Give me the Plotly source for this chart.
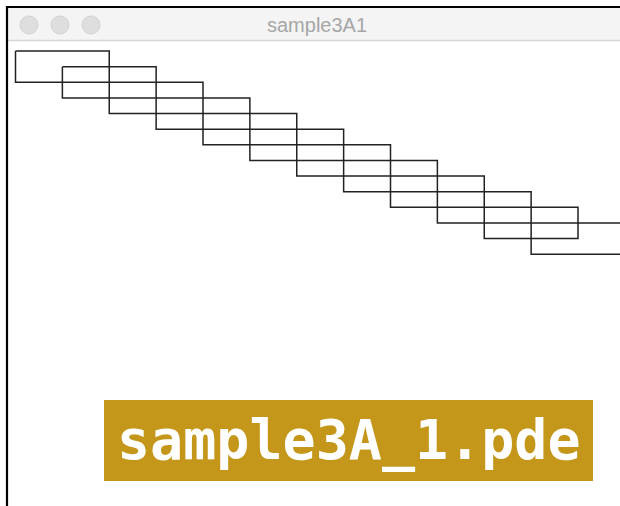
import plotly.graph_objects as go

# Sketch data (Processing units): rect(x, y, w, h) for each step
step_index = list(range(12))
rect_x = [30 * i for i in step_index]
rect_y = [10 * i for i in step_index]
rect_w = [60] * len(step_index)
rect_h = [20] * len(step_index)

window_title = "sample3A1"
label_text = "sample3A_1.pde"

W, H = 620, 506
SCALE = 1.5625
ORIGIN_X, ORIGIN_Y = 15.5, 51.0

xs, ys = [], []
for x, y, w, h in zip(rect_x, rect_y, rect_w, rect_h):
    xs += [x, x + w, x + w, x, x, None]
    ys += [y, y, y + h, y + h, y, None]

fig = go.Figure()
fig.add_trace(go.Scatter(x=xs, y=ys, mode="lines",
                         line=dict(color="#222222", width=1.5),
                         hoverinfo="skip", showlegend=False))

x0 = -ORIGIN_X / SCALE
y0 = -ORIGIN_Y / SCALE
fig.update_xaxes(range=[x0, x0 + W / SCALE], visible=False, fixedrange=True)
fig.update_yaxes(range=[y0 + H / SCALE, y0], visible=False, fixedrange=True)


def px(x):
    return x / W


def py(y):
    return 1 - y / H


shapes = [
    # title bar
    dict(type="rect", xref="paper", yref="paper", x0=px(7), x1=px(W + 5),
         y0=py(40), y1=py(7), fillcolor="#f4f4f4", line=dict(width=0), layer="below"),
    dict(type="line", xref="paper", yref="paper", x0=px(8), x1=px(W + 5),
         y0=py(40.5), y1=py(40.5), line=dict(color="#d6d6d6", width=1.5)),
    # window border
    dict(type="line", xref="paper", yref="paper", x0=px(6), x1=px(W + 5),
         y0=py(7), y1=py(7), line=dict(color="#000000", width=2)),
    dict(type="line", xref="paper", yref="paper", x0=px(7), x1=px(7),
         y0=py(6), y1=py(H + 5), line=dict(color="#000000", width=2.2)),
    # label box
    dict(type="rect", xref="paper", yref="paper", x0=px(104), x1=px(593),
         y0=py(481), y1=py(400), fillcolor="#c4971a", line=dict(width=0)),
]
for cx in (29, 60, 91):
    shapes.append(dict(type="circle", xref="paper", yref="paper",
                       x0=px(cx - 9), x1=px(cx + 9), y0=py(25 + 9), y1=py(25 - 9),
                       fillcolor="#dedede", line=dict(color="#d2d2d2", width=1)))

annotations = [
    dict(text=window_title, xref="paper", yref="paper", x=px(317), y=py(25),
         xanchor="center", yanchor="middle", showarrow=False,
         font=dict(family="Liberation Sans, Arial", size=20, color="#a6a6a6")),
    dict(text="<b>" + label_text + "</b>", xref="paper", yref="paper",
         x=px(349), y=py(440), xanchor="center", yanchor="middle", showarrow=False,
         font=dict(family="DejaVu Sans Mono", size=55, color="#ffffff")),
]

fig.update_layout(width=W, height=H, margin=dict(l=0, r=0, t=0, b=0),
                  paper_bgcolor="#ffffff", plot_bgcolor="#ffffff",
                  shapes=shapes, annotations=annotations)

fig.write_html("out.html", config={"displayModeBar": False},
               post_script="document.body.style.margin='0';document.body.style.overflow='hidden';")
